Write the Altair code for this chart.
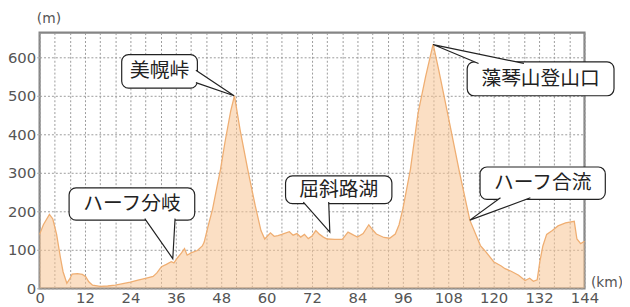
import altair as alt
import pandas as pd

# elevation profile (km, m)
km = [0, 1, 2.6, 3.5, 4.5, 5.5, 6.2, 7.2, 8, 8.6, 10, 11.3, 12.2, 13, 14, 16, 18, 20, 22, 24,
      26, 28, 30, 31, 32.2, 33.5, 34.8, 35.5, 36.5, 37.5, 38.3, 39, 40, 41.7, 43, 43.5, 44.5,
      45.7, 47, 47.8, 49, 50.5, 51.5, 53, 55, 57, 58.5, 59.5, 61, 62, 63, 64, 66, 67, 68, 69,
      70, 71, 72, 73, 74, 75, 76, 78, 80, 81.5, 83, 84, 85.5, 87, 88, 89, 91, 92.5, 94, 95,
      96, 98, 100, 102, 104, 105.5, 108, 111, 113.7, 116.5, 118, 120, 122, 123, 124.5, 126.6,
      128.3, 129.5, 130.5, 131.5, 132.2, 133, 134, 135.5, 137, 139, 141.3, 142, 143, 144]
elev = [140, 165, 192, 180, 140, 80, 43, 13, 25, 37, 38, 36, 30, 17, 8, 5, 6, 8, 12, 16,
        21, 26, 31, 40, 56, 62, 69, 66, 80, 92, 103, 86, 92, 98, 110, 120, 160,
        205, 270, 308, 380, 460, 500, 411, 309, 214, 150, 128, 144, 135, 137, 140, 147, 138, 142, 133,
        140, 129, 136, 150, 140, 133, 128, 127, 127, 146, 138, 133, 142, 165, 152, 141, 132, 130, 141, 165,
        206, 309, 454, 549, 634, 566, 446, 300, 177, 111, 94, 69, 58, 51, 45, 34,
        20, 26, 18, 22, 69, 110, 140, 150, 162, 170, 174, 128, 116, 122]

x_grid = list(range(0, 145, 4))
y_ticks = [0, 100, 200, 300, 400, 500, 600]

# callouts
labels = ["ハーフ分岐", "美幌峠", "屈斜路湖", "藻琴山登山口", "ハーフ合流"]
box_x1 = [7.8, 21.7, 65.0, 113.0, 116.4]
box_x2 = [41.0, 41.7, 93.1, 151.8, 149.5]
box_y1 = [177, 520, 220, 500, 231]
box_y2 = [261, 607, 292, 588, 315]
tip_x = [35.2, 51.4, 76.7, 104.0, 113.7]
tip_y = [77, 500, 146, 633, 177]
base1_x = [27.8, 41.3, 69.7, 116.0, 121.8]
base1_y = [181, 566, 224, 584, 235]
base2_x = [35.8, 41.3, 76.4, 128.0, 129.7]
base2_y = [181, 534, 224, 584, 235]

prof = pd.DataFrame({"km": km, "elev": elev})
boxes = pd.DataFrame({"label": labels, "x1": box_x1, "x2": box_x2, "y1": box_y1, "y2": box_y2})
boxes["xc"] = (boxes.x1 + boxes.x2) / 2
boxes["yc"] = (boxes.y1 + boxes.y2) / 2

tri_rows = []
for i, lab in enumerate(labels):
    tri_rows.append({"label": lab, "o": 0, "x": base1_x[i], "y": base1_y[i]})
    tri_rows.append({"label": lab, "o": 1, "x": tip_x[i], "y": tip_y[i]})
    tri_rows.append({"label": lab, "o": 2, "x": base2_x[i], "y": base2_y[i]})
tri = pd.DataFrame(tri_rows)

xs = alt.Scale(domain=[0, 144], nice=False, zero=False)
ys = alt.Scale(domain=[0, 664], nice=False, zero=True)

x_axis = alt.Axis(values=x_grid, labelExpr="datum.value % 12 == 0 ? datum.label : ''",
                  grid=True, gridDash=[2, 2], gridColor="#9a9a9a", gridWidth=1, tickSize=0,
                  domain=False, labelOverlap=False,
                  labelFont="DejaVu Sans", labelFontSize=15, labelColor="#555", labelPadding=2,
                  title="(km)", titleX=558, titleY=-6, titleAngle=0, titleAlign="left",
                  titleBaseline="middle", titleFont="DejaVu Sans", titleFontSize=14,
                  titleFontWeight="normal", titleColor="#555", labelFlush=False)
y_axis = alt.Axis(values=y_ticks, grid=True, gridDash=[2, 2], gridColor="#9a9a9a", gridWidth=1,
                  tickSize=3, labelOverlap=False,
                  tickColor="#aaa", domain=False, labelFont="DejaVu Sans", labelFontSize=15,
                  labelColor="#555", labelPadding=1, title="(m)", titleX=9, titleY=-14,
                  titleAngle=0, titleAlign="center", titleBaseline="middle",
                  titleFont="DejaVu Sans", titleFontSize=14, titleFontWeight="normal",
                  titleColor="#555")

area = alt.Chart(prof).mark_area(color="#F8C493", opacity=0.55).encode(
    x=alt.X("km:Q", scale=xs, axis=x_axis),
    y=alt.Y("elev:Q", scale=ys, axis=y_axis),
)
line = alt.Chart(prof).mark_line(color="#EFAE72", strokeWidth=1.3).encode(
    x=alt.X("km:Q", scale=xs, axis=x_axis), y=alt.Y("elev:Q", scale=ys, axis=y_axis)
)
rects = alt.Chart(boxes).mark_rect(fill="white", stroke="#222", strokeWidth=1.2,
                                   cornerRadius=7).encode(
    x=alt.X("x1:Q", scale=xs, axis=x_axis), x2="x2:Q",
    y=alt.Y("y1:Q", scale=ys, axis=y_axis), y2="y2:Q"
)
tris = alt.Chart(tri).mark_line(fill="white", stroke="#222", strokeWidth=1.2,
                                 interpolate="linear").encode(
    x=alt.X("x:Q", scale=xs, axis=x_axis), y=alt.Y("y:Q", scale=ys, axis=y_axis),
    order="o:Q", detail="label:N"
)
texts = alt.Chart(boxes).mark_text(font="Noto Sans CJK JP", fontSize=20, color="#222",
                                   align="center", baseline="middle").encode(
    x=alt.X("xc:Q", scale=xs, axis=x_axis), y=alt.Y("yc:Q", scale=ys, axis=y_axis),
    text="label:N"
)

chart = alt.layer(area, line, rects, tris, texts).properties(
    width=552, height=259,
    autosize=alt.AutoSizeParams(type="none"),
    padding={"left": 32, "top": 23, "right": 38, "bottom": 17},
).configure(background="white").configure_view(stroke="#858585", strokeWidth=2.2)

chart.save("out.html", embed_options={"renderer": "svg", "actions": False})
